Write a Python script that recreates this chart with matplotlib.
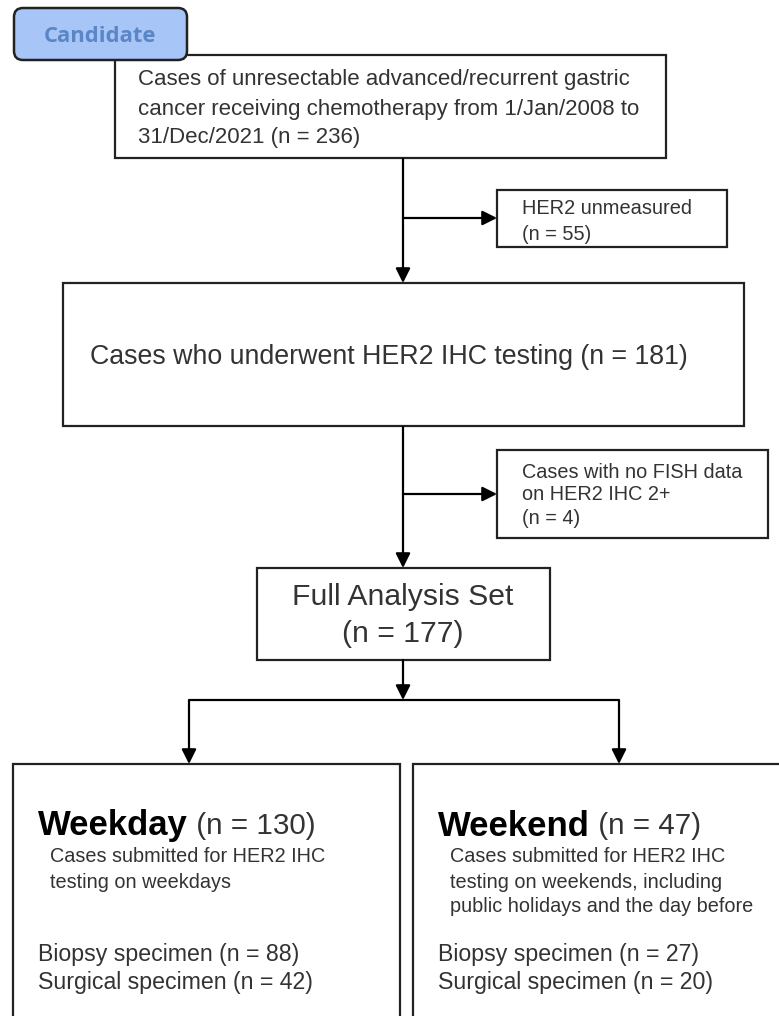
"""Patient selection flowchart: HER2 IHC testing, weekday vs weekend submission."""

import matplotlib

matplotlib.use("Agg")
import matplotlib.pyplot as plt  # noqa: E402
from matplotlib.patches import FancyBboxPatch, Rectangle  # noqa: E402

# counts shown in the flow
n_total = 236
n_unmeasured = 55
n_ihc = 181
n_no_fish = 4
n_fas = 177
group_names = ["Weekday", "Weekend"]
group_n = [130, 47]
group_desc = [
    ["Cases submitted for HER2 IHC", "testing on weekdays"],
    ["Cases submitted for HER2 IHC", "testing on weekends, including",
     "public holidays and the day before"],
]
biopsy_n = [88, 27]
surgical_n = [42, 20]

FONT = "Liberation Sans"
LINE = "#222222"
TEXT = "#333333"
W, H = 779, 1016

fig = plt.figure(figsize=(W / 100, H / 100), dpi=100)
ax = fig.add_axes([0, 0, 1, 1])
ax.set_xlim(0, W)
ax.set_ylim(H, 0)
ax.axis("off")


def box(x0, y0, x1, y1, z=1):
    ax.add_patch(Rectangle((x0, y0), x1 - x0, y1 - y0, fill=True, facecolor="white",
                           edgecolor=LINE, lw=1.6, zorder=z))


def arrow(x0, y0, x1, y1):
    ax.annotate("", xy=(x1, y1), xytext=(x0, y0),
                arrowprops=dict(arrowstyle="-|>", color="black", lw=1.6,
                                mutation_scale=22, shrinkA=0, shrinkB=0), zorder=3)


def line(xs, ys):
    ax.plot(xs, ys, color="black", lw=1.6, solid_capstyle="butt", zorder=2)


def txt(x, y, s, size, ha="left", **kw):
    ax.text(x, y, s, fontsize=size, ha=ha, va="center", color=TEXT, family=FONT, **kw)


# top box + candidate tag
box(115, 55, 666, 158)
ax.add_patch(FancyBboxPatch((14, 8), 173, 52, boxstyle="round,pad=0,rounding_size=9",
                            facecolor="#a8c5f7", edgecolor=LINE, lw=1.8, zorder=5))
ax.text(100, 36, "Candidate", fontsize=15.8, ha="center", va="center", color="#5a86c5",
        family="Open Sans", fontweight="bold", zorder=6)
txt(138, 80, "Cases of unresectable advanced/recurrent gastric", 16)
txt(138, 109, "cancer receiving chemotherapy from 1/Jan/2008 to", 16)
txt(138, 138, f"31/Dec/2021 (n = {n_total})", 16)

# exclusion 1
line([403, 403], [158, 218])
arrow(403, 218, 403, 283)
arrow(403, 218, 497, 218)
box(497, 190, 727, 247)
txt(522, 209, "HER2 unmeasured", 14.4)
txt(522, 234, f"(n = {n_unmeasured})", 14.4)

# IHC tested
box(63, 283, 744, 426)
txt(389, 357, f"Cases who underwent HER2 IHC testing (n = {n_ihc})", 19.3, ha="center")

# exclusion 2
line([403, 403], [426, 494])
arrow(403, 494, 403, 568)
arrow(403, 494, 497, 494)
box(497, 450, 768, 538)
txt(522, 472, "Cases with no FISH data", 14.3)
txt(522, 495, "on HER2 IHC 2+", 14.3)
txt(522, 518, f"(n = {n_no_fish})", 14.3)

# full analysis set
box(257, 568, 550, 660)
txt(403, 597, "Full Analysis Set", 21.7, ha="center")
txt(403, 634, f"(n = {n_fas})", 21.7, ha="center")

# split
arrow(403, 660, 403, 700)
line([189, 619], [700, 700])
arrow(189, 700, 189, 764)
arrow(619, 700, 619, 764)

# group boxes
for i, (x0, x1) in enumerate([(13, 400), (413, 790)]):
    box(x0, 764, x1, 1030)
    t = ax.text(x0 + 25, 826, group_names[i], fontsize=25, fontweight="bold",
                ha="left", va="center", color="black", family=FONT)
    ax.annotate(f" (n = {group_n[i]})", xycoords=t, xy=(1, 0.5), va="center",
                ha="left", fontsize=21.3, color=TEXT, family=FONT)
    for j, s in enumerate(group_desc[i]):
        txt(x0 + 37, 857 + 25 * j, s, 14.3)
    txt(x0 + 25, 954, f"Biopsy specimen (n = {biopsy_n[i]})", 16.7)
    txt(x0 + 25, 983, f"Surgical specimen (n = {surgical_n[i]})", 16.7)

fig.savefig("out.png", dpi=100)
